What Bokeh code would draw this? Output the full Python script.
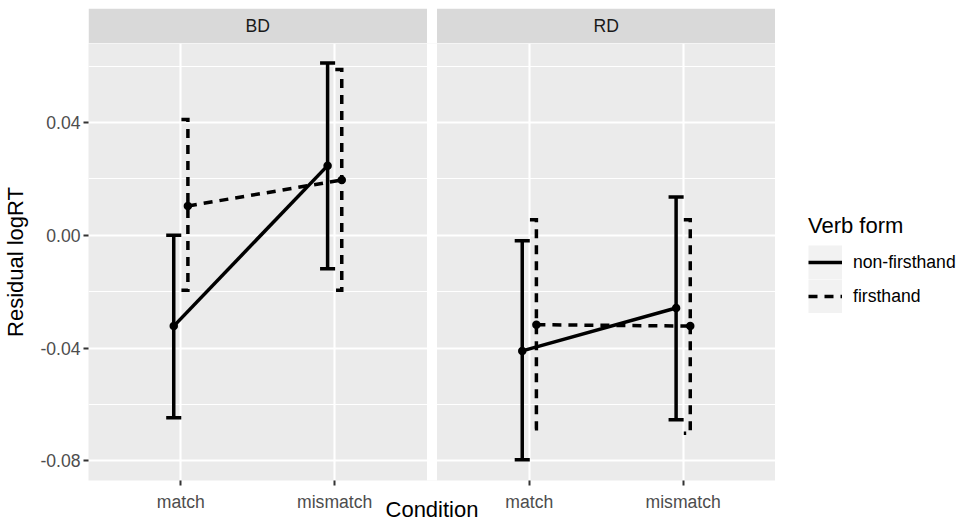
import numpy as np
from bokeh.plotting import figure
from bokeh.layouts import column, row
from bokeh.models import Range1d, FixedTicker, Legend, LegendItem
from bokeh.core.properties import value
from bokeh.embed import file_html
from bokeh.resources import INLINE

# ---------------- data ----------------
panels = ["BD", "RD"]
conditions = ["match", "mismatch"]
verb_forms = ["non-firsthand", "firsthand"]

bd_nonfirst_mean = [-0.0322, 0.0247]
bd_nonfirst_lower = [-0.0647, -0.0119]
bd_nonfirst_upper = [0.0000, 0.0611]
bd_first_mean = [0.0104, 0.0196]
bd_first_lower = [-0.0195, -0.0195]
bd_first_upper = [0.0411, 0.0588]

rd_nonfirst_mean = [-0.0410, -0.0258]
rd_nonfirst_lower = [-0.0796, -0.0654]
rd_nonfirst_upper = [-0.0019, 0.0136]
rd_first_mean = [-0.0317, -0.0322]
rd_first_lower = [-0.0686, -0.0702]
rd_first_upper = [0.0055, 0.0055]

y_ticks = [-0.08, -0.04, 0.0, 0.04]
y_tick_labels = ["-0.08", "-0.04", "0.00", "0.04"]
y_minor_ticks = [-0.06, -0.02, 0.02, 0.06]

series = {
    ("BD", "non-firsthand"): (bd_nonfirst_mean, bd_nonfirst_lower, bd_nonfirst_upper),
    ("BD", "firsthand"): (bd_first_mean, bd_first_lower, bd_first_upper),
    ("RD", "non-firsthand"): (rd_nonfirst_mean, rd_nonfirst_lower, rd_nonfirst_upper),
    ("RD", "firsthand"): (rd_first_mean, rd_first_lower, rd_first_upper),
}

# ---------------- layout ----------------
W, H = 959, 524
FR_L, FR_R = 88, 775          # panel area, page pixels
STRIP_T, PANEL_T, PANEL_B = 8, 43, 482
PY = 2833.0                   # pixels per y unit
y0 = -0.08695
y1 = y0 + (PANEL_B - PANEL_T) / PY

panel_offset = {"BD": 0.0, "RD": 2.265}
panel_lo = {k: 0.4 + v for k, v in panel_offset.items()}
panel_hi = {k: 2.6 + v for k, v in panel_offset.items()}
x_range = Range1d(panel_lo["BD"], panel_hi["RD"])
dodge = {"non-firsthand": -0.046, "firsthand": 0.046}
dash = {"non-firsthand": "solid", "firsthand": "9 7"}
LW = 3.5
FONT = "Liberation Sans"

# ---------------- strip figure ----------------
s = figure(width=FR_R, height=PANEL_T, x_range=x_range, y_range=Range1d(0, 1),
           x_axis_type=None, y_axis_type=None, output_backend="svg",
           toolbar_location=None, min_border_left=FR_L, min_border_right=0,
           min_border_top=STRIP_T, min_border_bottom=0)
s.grid.visible = False
s.outline_line_color = None
s.background_fill_color = "white"
s.border_fill_color = "white"
s.quad(left=[panel_lo[k] for k in panels], right=[panel_hi[k] for k in panels],
       bottom=0, top=1, fill_color="#D9D9D9", line_color=None)
s.text(x=[(panel_lo[k] + panel_hi[k]) / 2 for k in panels], y=[0.5] * len(panels),
       text=panels, text_font=value(FONT), text_font_size="17.6px",
       text_color="#1A1A1A", text_align="center", text_baseline="middle")

# ---------------- main figure ----------------
p = figure(width=FR_R, height=H - PANEL_T, x_range=x_range, y_range=Range1d(y0, y1),
           output_backend="svg", toolbar_location=None,
           min_border_left=FR_L, min_border_right=0, min_border_top=0,
           min_border_bottom=H - PANEL_B)
p.background_fill_color = "#EBEBEB"
p.border_fill_color = "white"
p.outline_line_color = None

x_tick_pos = []
x_tick_lab = {}
for pn in panels:
    for ci, c in enumerate(conditions):
        xv = 1 + ci + panel_offset[pn]
        x_tick_pos.append(xv)
        x_tick_lab[xv] = c

p.xaxis.ticker = FixedTicker(ticks=x_tick_pos)
p.xaxis.major_label_overrides = x_tick_lab
p.yaxis.ticker = FixedTicker(ticks=y_ticks, minor_ticks=y_minor_ticks)
p.yaxis.major_label_overrides = {t: l for t, l in zip(y_ticks, y_tick_labels)}
p.xgrid.ticker = FixedTicker(ticks=x_tick_pos)
p.ygrid.ticker = FixedTicker(ticks=y_ticks, minor_ticks=y_minor_ticks)

for ax in (p.xaxis[0], p.yaxis[0]):
    ax.axis_line_color = None
    ax.minor_tick_line_color = None
    ax.major_tick_line_color = "#333333"
    ax.major_tick_line_width = 2
    ax.major_tick_out = 5
    ax.major_tick_in = 0
    ax.major_label_text_font = FONT
    ax.major_label_text_font_size = "17.6px"
    ax.major_label_text_color = "#4D4D4D"
    ax.axis_label_text_font = FONT
    ax.axis_label_text_font_size = "22px"
    ax.axis_label_text_font_style = "normal"
    ax.axis_label_text_color = "black"
p.xaxis.major_label_standoff = 6
p.yaxis.major_label_standoff = 3
p.xaxis.axis_label = "Condition"
p.yaxis.axis_label = "Residual logRT"
p.xaxis.axis_label_standoff = -18
p.yaxis.axis_label_standoff = 9

p.xgrid.grid_line_color = "white"
p.xgrid.grid_line_width = 2.13
p.ygrid.grid_line_color = "white"
p.ygrid.grid_line_width = 2.13
p.ygrid.minor_grid_line_color = "white"
p.ygrid.minor_grid_line_width = 1.07

# white gap between panels
p.quad(left=[panel_hi["BD"]], right=[panel_lo["RD"]], bottom=y0 - 1, top=y1 + 1,
       fill_color="white", line_color=None)

for vf in verb_forms:
    bars_x, bars_y = [], []
    cap_x0, cap_x1, cap_y = [], [], []
    line_xs, line_ys = [], []
    pts_x, pts_y = [], []
    for pn in panels:
        mean, lo, hi = series[(pn, vf)]
        xs = [1 + ci + panel_offset[pn] + dodge[vf] for ci in range(len(conditions))]
        line_xs.append(xs)
        line_ys.append(list(mean))
        pts_x += xs
        pts_y += list(mean)
        for xv, l, h in zip(xs, lo, hi):
            if vf == "firsthand":
                bars_x.append([xv - 0.042, xv, xv, xv - 0.042])
                bars_y.append([h, h, l, l])
            else:
                bars_x.append([xv, xv])
                bars_y.append([l, h])
                cap_x0 += [xv - 0.049, xv - 0.049]
                cap_x1 += [xv + 0.049, xv + 0.049]
                cap_y += [l, h]
    p.multi_line(xs=bars_x, ys=bars_y, line_color="black", line_width=LW,
                 line_dash=dash[vf], line_join="miter")
    if cap_x0:
        p.segment(x0=cap_x0, x1=cap_x1, y0=cap_y, y1=cap_y, line_color="black",
                  line_width=LW)
    p.multi_line(xs=line_xs, ys=line_ys, line_color="black", line_width=LW,
                 line_dash=dash[vf])
    p.scatter(x=pts_x, y=pts_y, size=8.5, marker="circle", fill_color="black",
              line_color=None)

# ---------------- legend figure ----------------
LG_W = W - FR_R
lg = figure(width=LG_W, height=H, x_range=Range1d(0, 1), y_range=Range1d(0, 1),
            x_axis_type=None, y_axis_type=None, output_backend="svg",
            toolbar_location=None, min_border_left=0, min_border_right=0,
            min_border_top=0, min_border_bottom=0)
lg.grid.visible = False
lg.outline_line_color = None
lg.background_fill_color = "white"
lg.border_fill_color = "white"
# legend proxies (no visible data in the plot area)
key_bg = lg.line(x=[np.nan], y=[np.nan], line_color="#F2F2F2", line_width=34,
                 line_cap="butt")
proxies = {vf: lg.line(x=[np.nan], y=[np.nan], line_color="black", line_width=LW,
                       line_dash=dash[vf]) for vf in verb_forms}

legend = Legend(items=[LegendItem(label=vf, renderers=[key_bg, proxies[vf]])
                       for vf in verb_forms],
                location=(808 - FR_R, H - 313), title="Verb form",
                title_text_font=FONT, title_text_font_size="22px",
                title_text_color="black", title_text_font_style="normal",
                title_standoff=6,
                label_text_font=FONT, label_text_font_size="17.6px",
                label_text_color="black", label_standoff=11,
                glyph_width=34, glyph_height=34, label_height=34, spacing=0,
                padding=0, margin=0, border_line_color=None,
                background_fill_alpha=0)
lg.add_layout(legend)

layout = row(column(s, p, spacing=0), lg, spacing=0)
open("out.html", "w").write(file_html(layout, INLINE))
